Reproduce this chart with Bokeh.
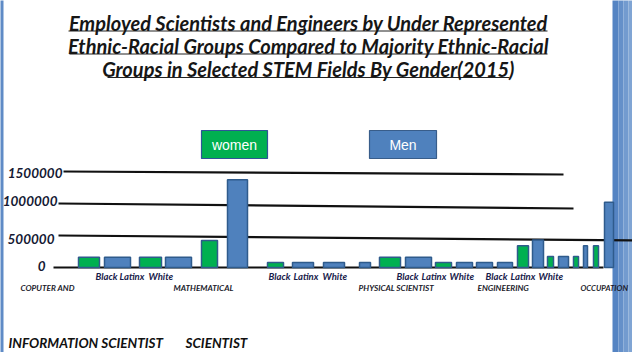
from bokeh.plotting import figure
from bokeh.models import Range1d, Label, ColumnDataSource
from bokeh.core.properties import value
from bokeh.embed import file_html
from bokeh.resources import INLINE

# ---------------- data ----------------
tick_values = [0, 500000, 1000000, 1500000]
tick_labels = ["0", "500000", "1000000", "1500000"]

bar_field = (["Computer and Mathematical Scientist"] * 6 + ["Physical Scientist"] * 6
             + ["Engineering"] * 6 + ["Occupation"] * 6)
bar_group = ["Black", "Black", "Latinx", "Latinx", "White", "White"] * 4
bar_gender = ["Women", "Men"] * 12
bar_value = [160000, 160000, 160000, 160000, 420000, 1370000,
             80000, 80000, 80000, 80000, 160000, 160000,
             80000, 80000, 80000, 80000, 340000, 430000,
             170000, 170000, 170000, 340000, 340000, 1020000]

legend_labels = ["women", "Men"]
title_lines = ["Employed Scientists and Engineers by Under Represented",
               "Ethnic-Racial Groups Compared to Majority Ethnic-Racial",
               "Groups in Selected STEM Fields By Gender(2015)"]
group_labels = ["Black", "Latinx", "White"] * 4
field_labels = ["COPUTER AND", "MATHEMATICAL", "PHYSICAL SCIENTIST", "ENGINEERING", "OCCUPATION"]
bottom_labels = ["INFORMATION SCIENTIST", "SCIENTIST"]

# ---------------- layout (pixel positions of the slide) ----------------
W, H = 632, 352
ZERO_PX = 267.0
PX_PER_UNIT = 64.0 / 1e6


def py(ypx):
    """slide y pixel -> value units"""
    return (ZERO_PX - ypx) / PX_PER_UNIT


bar_left = [78, 104, 139, 165, 201, 227, 267, 292, 323, 359, 379, 405,
            435, 456, 476, 497, 517, 532, 547, 558, 573, 583, 593, 604]
bar_right = [99, 130, 161, 191, 217, 247, 283, 313, 344, 370, 400, 431,
             451, 472, 492, 512, 528, 543, 553, 568, 578, 587, 598, 613]
GREEN, BLUE = "#00b050", "#4f81bd"
overlapped = {8, 14}
bar_fill = [BLUE if (g == "Men" or i in overlapped) else GREEN for i, g in enumerate(bar_gender)]

grid_x0 = [53, 58, 58, 63]
grid_x1 = [603, 640, 573, 563]
grid_drop_px = [0, 5, 5, 3]

tick_right = [45, 54, 57, 62]
tick_center_px = [265, 238, 200, 172]

p = figure(width=W, height=H, output_backend="svg", toolbar_location=None,
           x_axis_type=None, y_axis_type=None,
           x_range=Range1d(0, W), y_range=Range1d(py(H), py(0)),
           min_border=0, min_border_left=0, min_border_right=0,
           min_border_top=0, min_border_bottom=0)
p.outline_line_color = None
p.grid.visible = False
p.background_fill_color = "white"
p.border_fill_color = "white"

# slide border (decoration)
stripes = [(612, 618, "#5584c3"), (618, 623, "#6590c9"), (623, 628, "#739bcf"), (628, 641, "#80a5d4")]
p.quad(left=[s[0] for s in stripes], right=[s[1] for s in stripes],
       bottom=py(H + 5), top=py(-5), fill_color=[s[2] for s in stripes], line_color=None)
p.quad(left=[-5], right=[3], bottom=py(H + 5), top=py(-5), fill_color="#5f8bc6", line_color=None)

# hand-drawn grid lines
gsrc = ColumnDataSource(dict(x0=grid_x0, x1=grid_x1, y0=tick_values,
                             y1=[v - d / PX_PER_UNIT for v, d in zip(tick_values, grid_drop_px)]))
p.segment(x0="x0", x1="x1", y0="y0", y1="y1", source=gsrc, line_color="#111111", line_width=2.2)

# bars
bsrc = ColumnDataSource(dict(left=bar_left, right=bar_right, top=bar_value,
                             fill=bar_fill, field=bar_field, group=bar_group, gender=bar_gender))
p.quad(left="left", right="right", bottom=0, top="top", source=bsrc,
       fill_color="fill", line_color="#2f5b8c", line_width=1.5)

FONT = "Lato"

# y tick labels
tsrc = ColumnDataSource(dict(x=tick_right, y=[py(c) for c in tick_center_px], t=tick_labels))
p.text(x="x", y="y", text="t", source=tsrc, text_font=value(FONT), text_font_style="bold italic",
       text_font_size="13.5px", text_align="right", text_baseline="middle", text_color="#151a33")

# title
title_cx = 308
title_mid = [22, 45.5, 68.5]
title_ul = [(68, 547, 30.5), (69, 547, 53.5), (107, 509, 77)]
for t, m in zip(title_lines, title_mid):
    p.add_layout(Label(x=title_cx, y=py(m), text=t, text_font=FONT, text_font_style="bold italic",
                       text_font_size="20px", text_align="center", text_baseline="middle",
                       text_color="#161616"))
p.segment(x0=[u[0] for u in title_ul], x1=[u[1] for u in title_ul],
          y0=[py(u[2]) for u in title_ul], y1=[py(u[2]) for u in title_ul],
          line_color="#222222", line_width=1)

# legend boxes
leg_box = [(201, 267, GREEN, "#2f5597"), (369, 436, BLUE, "#385d8a")]
p.quad(left=[b[0] for b in leg_box], right=[b[1] for b in leg_box], bottom=py(158), top=py(130),
       fill_color=[b[2] for b in leg_box], line_color=[b[3] for b in leg_box], line_width=1.2)
for lab, b in zip(legend_labels, leg_box):
    p.add_layout(Label(x=(b[0] + b[1]) / 2, y=py(144.5), text=lab, text_font="Liberation Sans",
                       text_font_size="14px", text_align="center", text_baseline="middle",
                       text_color="white"))

# group labels under bars
group_x = [95, 119, 148, 268, 293, 322, 396, 421, 449, 485, 510, 538]
for lab, x in zip(group_labels, group_x):
    p.add_layout(Label(x=x, y=py(275.5), text=lab, text_font=FONT, text_font_style="bold italic",
                       text_font_size="9.5px", text_align="left", text_baseline="middle",
                       text_color="#18204a"))

field_x = [20, 173, 358, 477, 580]
field_size = ["8.2px", "8.2px", "8.2px", "8.2px", "7.8px"]
for lab, x, s in zip(field_labels, field_x, field_size):
    p.add_layout(Label(x=x, y=py(287.5), text=lab, text_font=FONT, text_font_style="bold italic",
                       text_font_size=s, text_align="left", text_baseline="middle",
                       text_color="#1a1a2a"))

bottom_x = [8, 185]
for lab, x in zip(bottom_labels, bottom_x):
    p.add_layout(Label(x=x, y=py(342), text=lab, text_font=FONT, text_font_style="bold italic",
                       text_font_size="13.5px", text_align="left", text_baseline="middle",
                       text_color="#111111"))

open("out.html", "w").write(file_html(p, INLINE))
